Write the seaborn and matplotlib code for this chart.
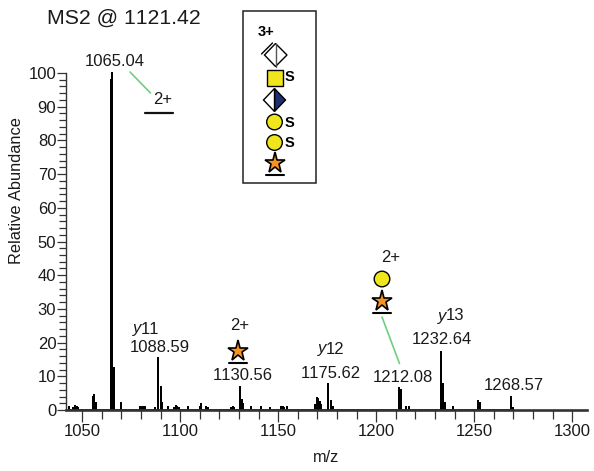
import numpy as np
import pandas as pd
import matplotlib
matplotlib.use("Agg")
import matplotlib.pyplot as plt
from matplotlib.patches import Polygon, Rectangle, Circle
from matplotlib.ticker import FixedLocator
import seaborn as sns

# ---- data ----
mz = [1043, 1045.5, 1046.5, 1047.2, 1048, 1055.6, 1056.1, 1056.9, 1064.8, 1065.2, 1066.3, 1069.6, 1070,
      1079.3, 1080, 1081, 1082, 1087, 1088.5, 1090, 1090.8, 1093.7, 1097, 1097.6, 1098.6, 1099.5,
      1103.9, 1110.2, 1110.8, 1113, 1114, 1126, 1126.7, 1127.6, 1130.7, 1131.5, 1132.2, 1136.3, 1141.4,
      1146, 1151.5, 1152.5, 1153.2, 1154.3, 1169, 1169.7, 1170.4, 1171.2, 1172, 1175.6,
      1176.8, 1177.8, 1211.5, 1212.5, 1215, 1216.5, 1233, 1234.2, 1235, 1239.4,
      1251.8, 1252.8, 1268.9, 1269.7]
intensity = [0.8, 0.6, 1.1, 1.0, 0.6, 4.0, 4.5, 2.1, 98, 100, 12.5, 1.2, 2.0,
             0.9, 0.9, 0.9, 0.8, 0.7, 15.3, 6.7, 2.0, 0.9, 0.6, 1.2, 0.8, 0.7,
             0.8, 0.9, 1.7, 0.8, 0.5, 0.7, 0.9, 0.7, 6.7, 3.0, 1.8, 0.8, 0.8,
             0.7, 0.8, 0.8, 0.7, 0.8, 1.5, 3.6, 3.3, 2.4, 1.6, 7.7,
             2.6, 0.8, 6.4, 5.9, 0.8, 0.9, 17.3, 7.8, 2.1, 0.9,
             2.6, 2.1, 4.0, 0.7]
x_major = [1050, 1100, 1150, 1200, 1250, 1300]
y_major = [0, 10, 20, 30, 40, 50, 60, 70, 80, 90, 100]
peak_labels = ["1065.04", "1088.59", "1130.56", "1175.62", "1212.08", "1232.64", "1268.57"]
ion_labels = ["11", "12", "13"]
title_text = "MS2 @ 1121.42"
charge_text = ["3+", "2+"]

W, H = 594, 471
sns.set_theme(style="ticks")
plt.rcParams["font.family"] = ["Liberation Sans", "DejaVu Sans"]
plt.rcParams["text.kerning_factor"] = 6
TXT = "#1a1a1a"
TICK = "#333333"
fig = plt.figure(figsize=(W / 100, H / 100), dpi=100, facecolor="white")

L, R, T, B = 66, 587, 73, 410
ax = fig.add_axes([L / W, 1 - B / H, (R - L) / W, (B - T) / H])

stem_x = np.repeat(mz, 3)
stem_y = np.column_stack([np.zeros(len(mz)), intensity, np.zeros(len(mz))]).ravel()
spec = pd.DataFrame({"mz": stem_x, "Relative Abundance": stem_y})
sns.lineplot(data=spec, x="mz", y="Relative Abundance", estimator=None, sort=False,
             color="black", lw=1.2, ax=ax, clip_on=False)

ax.set_xlim(1041.7, 1307.6)
ax.set_ylim(0, 100)
ax.xaxis.set_major_locator(FixedLocator(x_major))
ax.xaxis.set_minor_locator(FixedLocator(np.arange(1050, 1301, 10)))
ax.yaxis.set_major_locator(FixedLocator(y_major))
ax.yaxis.set_minor_locator(FixedLocator(np.arange(0, 101, 2)))
ax.tick_params(axis="x", which="major", bottom=True, length=8.6, width=0.9, labelsize=12, pad=1.5, color=TICK, labelcolor=TXT)
ax.tick_params(axis="x", which="minor", bottom=True, length=6.5, width=0.9, color=TICK)
ax.tick_params(axis="y", which="major", left=True, length=6.5, width=0.9, labelsize=12, pad=0.5, color=TICK, labelcolor=TXT)
ax.tick_params(axis="y", which="minor", left=True, length=5, width=0.9, color=TICK)
for a in (ax.xaxis, ax.yaxis):
    for t in a.get_minor_ticks():
        t.tick1line.set_visible(True)
ax.spines["top"].set_visible(False)
ax.spines["right"].set_visible(False)
ax.spines["left"].set_linewidth(1.0)
ax.spines["bottom"].set_linewidth(1.9)
ax.spines["bottom"].set_color(TICK)
ax.spines["left"].set_color(TICK)
ax.patch.set_alpha(0)
ax.set_xlabel("")
ax.set_ylabel("")

# overlay in pixel coordinates for annotations
ov = fig.add_axes([0, 0, 1, 1])
ov.set_xlim(0, W)
ov.set_ylim(H, 0)
ov.axis("off")

def txt(x, y, s, size=12, **kw):
    kw.setdefault("color", TXT)
    ov.text(x, y, s, fontsize=size, ha="center", va="center", **kw)

txt(124, 18, title_text, size=15.3)
txt(17, 191, "Relative Abundance", size=11.8, rotation=90)
txt(326, 457, "m/z", size=11.8)

txt(115, 61, peak_labels[0])
txt(159.5, 347, peak_labels[1])
txt(243, 375, peak_labels[2])
txt(331, 373, peak_labels[3])
txt(403, 377, peak_labels[4])
txt(442, 340, peak_labels[5])
txt(514, 385, peak_labels[6])

def ion(x, y, n):
    ov.text(x - 9, y, "y", fontsize=12, style="italic", ha="center", va="center", color=TXT)
    ov.text(x + 4, y, n, fontsize=12, ha="center", va="center", color=TXT)

ion(146, 329, ion_labels[0])
ion(331, 349, ion_labels[1])
ion(451, 316, ion_labels[2])

txt(163, 100, charge_text[1])
txt(240, 325, charge_text[1])
txt(391, 258, charge_text[1])

GREEN = "#6fcf7d"
ov.plot([130, 150.5], [72, 93], color=GREEN, lw=1.2)
ov.plot([382, 399.5], [317, 363.5], color=GREEN, lw=1.2)
ov.plot([145, 173], [113, 113], color="#111111", lw=1.6)

STAR = "#f7931e"
YEL = "#f0e61e"
NAVY = "#1f2f6e"

def star(x, y, size=15.5):
    ov.plot([x], [y], marker="*", ms=size, mfc=STAR, mec="black", mew=1.2, ls="none")
    ov.plot([x - 9, x + 9], [y + 11.5, y + 11.5], color="black", lw=1.5)

def circle(x, y, r=7.8):
    ov.add_patch(Circle((x, y), r, fc=YEL, ec="black", lw=1.0))

star(238, 351)
star(382, 301)
circle(382, 279)

# composition box
ov.add_patch(Rectangle((243, 11), 73, 172, fc="white", ec="#222222", lw=1.1))
ov.text(266, 32, charge_text[0], fontsize=10.5, fontweight="bold", ha="center", va="center", color="black")

# double-outlined diamond
cx, cy = 275.5, 55
ov.add_patch(Polygon([(cx, cy - 11.5), (cx + 11.5, cy), (cx, cy + 11.5), (cx - 11, cy)], fc="white", ec="black", lw=1.0))
ov.plot([cx, cx], [cy - 11.5, cy + 11.5], color="#555555", lw=1.0)
ov.plot([261.5, 272.5], [54, 43], color="black", lw=1.0)

# square
ov.add_patch(Rectangle((266.5, 70), 16, 16, fc=YEL, ec="black", lw=1.0))
SIZE_S = 10.5
ov.text(289, 77, "S", fontsize=SIZE_S, fontweight="bold", ha="center", va="center", color="black")

# half filled diamond
cx2, cy2, hw2, hh2 = 274.5, 100, 11, 11.5
ov.add_patch(Polygon([(cx2, cy2 - hh2), (cx2 + hw2, cy2), (cx2, cy2 + hh2)], fc=NAVY, ec="black", lw=1.0))
ov.add_patch(Polygon([(cx2, cy2 - hh2), (cx2 - hw2, cy2), (cx2, cy2 + hh2)], fc="white", ec="black", lw=1.0))

circle(274.5, 122)
ov.text(289, 123, "S", fontsize=SIZE_S, fontweight="bold", ha="center", va="center", color="black")
circle(274.5, 142.5)
ov.text(289, 143, "S", fontsize=SIZE_S, fontweight="bold", ha="center", va="center", color="black")
star(274.5, 163)

fig.savefig("out.png", dpi=100, facecolor="white")
